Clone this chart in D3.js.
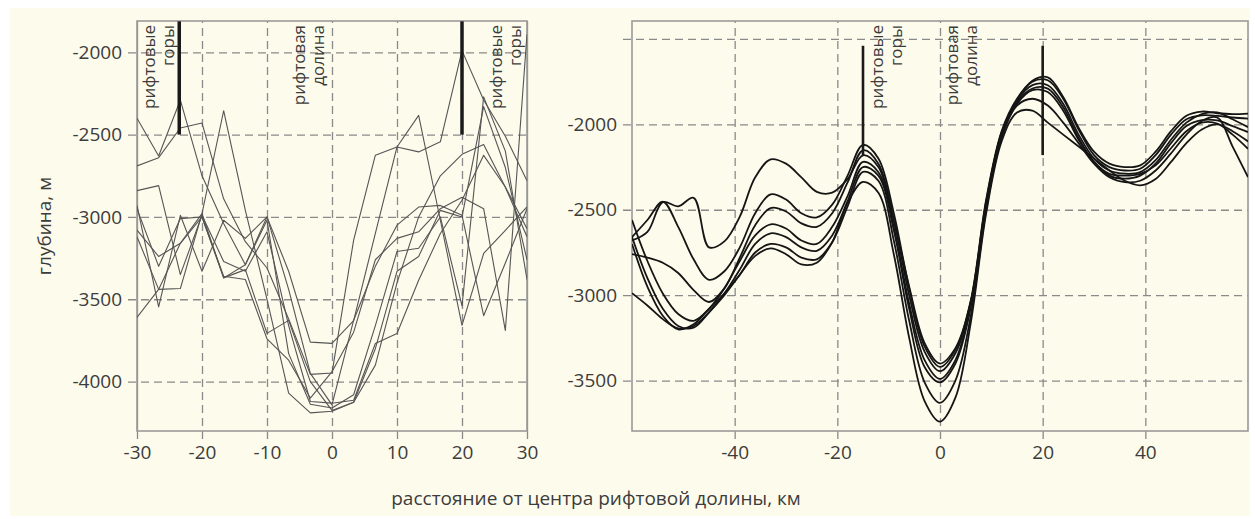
<!DOCTYPE html>
<html><head><meta charset="utf-8">
<script src="https://cdn.jsdelivr.net/npm/d3@7/dist/d3.min.js"></script>
<style>
html,body{margin:0;padding:0;background:#fff;}
svg{display:block;font-family:"Open Sans",sans-serif;}
</style></head>
<body>
<svg id="chart" width="1255" height="519"></svg>
<script>
// ---------- DATA ----------
// Left panel: profiles sampled every 10/3 km from -30 to 30 km
const leftX = [-30,-26.67,-23.33,-20,-16.67,-13.33,-10,-6.67,-3.33,0,3.33,6.67,10,13.33,16.67,20,23.33,26.67,30];
const left1 = [-2400,-2630,-2290,-2750,-3040,-3290,-3000,-3330,-3760,-3768,-3630,-3100,-2575,-2383,-3020,-3658,-3222,-3081,-2939];
const left2 = [-2690,-2640,-2460,-2430,-2890,-3150,-3310,-3620,-3956,-3948,-3141,-2625,-2575,-2605,-2544,-1990,-2290,-2510,-2780];
const left3 = [-2840,-2810,-3350,-2990,-3270,-3330,-3090,-3660,-4121,-4131,-4113,-3769,-3708,-3384,-3101,-2899,-2626,-2818,-3071];
const left4 = [-2930,-3546,-2990,-3330,-3020,-3130,-3000,-3440,-3950,-4141,-3627,-3300,-3050,-2940,-2930,-2990,-3600,-3280,-2950];
const left5 = [-3080,-3240,-3160,-3000,-3370,-3290,-3020,-3830,-4138,-4160,-4080,-3660,-3210,-3190,-3000,-3540,-2271,-2600,-3380];
const left6 = [-3610,-3440,-3160,-2980,-3370,-3320,-3707,-3628,-4000,-4175,-4125,-3800,-3330,-3240,-2960,-3000,-2330,-2700,-3260];
const left7 = [-3120,-3440,-3435,-2980,-2355,-2960,-3500,-4070,-4190,-4180,-4125,-3900,-3400,-3000,-2750,-2620,-2560,-2820,-3120];
const left8 = [-2950,-3300,-3010,-3000,-3360,-3380,-3740,-3870,-4100,-3940,-3700,-3260,-3130,-3090,-2950,-2880,-2950,-3690,-1890];

// Right panel: smoothed profiles sampled every 3 km from -60 to 60 km
const rightX = [-60,-57,-54,-51,-48,-45,-42,-39,-36,-33,-30,-27,-24,-21,-18,-15,-12,-9,-6,-3,0,3,6,9,12,15,18,21,24,27,30,33,36,39,42,45,48,51,54,57,60];
const right1 = [-2680,-2630,-2455,-2480,-2430,-2720,-2685,-2540,-2310,-2205,-2230,-2310,-2395,-2400,-2320,-2181,-2250,-2560,-2950,-3280,-3400,-3310,-3040,-2460,-2050,-1860,-1745,-1725,-1840,-2020,-2160,-2230,-2250,-2240,-2160,-2040,-1950,-1925,-1935,-1940,-1937];
const right2 = [-2660,-2560,-2453,-2600,-2790,-2910,-2860,-2720,-2520,-2410,-2440,-2520,-2545,-2470,-2300,-2120,-2200,-2520,-2960,-3300,-3420,-3320,-3030,-2440,-2040,-1850,-1750,-1742,-1850,-2030,-2180,-2250,-2270,-2260,-2180,-2060,-1970,-1947,-1950,-1960,-1967];
const right3 = [-2760,-2780,-2810,-2870,-2970,-3040,-2960,-2780,-2590,-2490,-2510,-2580,-2600,-2520,-2340,-2152,-2230,-2560,-3000,-3330,-3445,-3340,-3040,-2450,-2050,-1860,-1770,-1771,-1880,-2060,-2200,-2270,-2289,-2280,-2210,-2090,-1990,-1940,-1930,-1970,-2016];
const right4 = [-2560,-2800,-2990,-3110,-3150,-3080,-2960,-2800,-2650,-2585,-2610,-2680,-2700,-2600,-2420,-2220,-2280,-2600,-3050,-3380,-3490,-3380,-3060,-2470,-2060,-1870,-1790,-1791,-1900,-2080,-2220,-2300,-2318,-2300,-2230,-2110,-2010,-1975,-1977,-2010,-2045];
const right5 = [-2660,-2900,-3080,-3180,-3190,-3100,-2990,-2850,-2700,-2638,-2660,-2720,-2740,-2650,-2450,-2250,-2300,-2620,-3080,-3420,-3510,-3400,-3070,-2480,-2070,-1880,-1800,-1811,-1920,-2090,-2220,-2290,-2300,-2290,-2240,-2140,-2040,-1990,-1995,-2060,-2143];
const right6 = [-2700,-2950,-3120,-3200,-3170,-3080,-2990,-2880,-2750,-2700,-2720,-2780,-2790,-2690,-2480,-2278,-2330,-2680,-3150,-3510,-3630,-3500,-3120,-2500,-2080,-1890,-1850,-1890,-1990,-2110,-2230,-2310,-2338,-2330,-2270,-2170,-2060,-1980,-1960,-2130,-2309];
const right7 = [-2988,-3060,-3140,-3195,-3180,-3100,-3000,-2880,-2770,-2726,-2760,-2820,-2810,-2690,-2460,-2337,-2400,-2760,-3250,-3620,-3740,-3600,-3160,-2520,-2100,-1930,-1920,-1990,-2060,-2130,-2200,-2270,-2330,-2357,-2320,-2220,-2110,-2030,-2000,-2040,-2100];

// Tick values / labels
const leftXTicks = [-30,-20,-10,0,10,20,30];
const leftYTicks = [-2000,-2500,-3000,-3500,-4000];
const rightXTicks = [-40,-20,0,20,40];
const rightYTicks = [-1500,-2000,-2500,-3000,-3500];
const rightYLabels = [-2000,-2500,-3000,-3500];

// Markers (rift mountain crests) and annotations
const leftBars = [{x:-23.5, top:-1812, bottom:-2500},{x:20, top:-1812, bottom:-2500}];
const rightBars = [{x:-15, top:-1540, bottom:-2180},{x:20, top:-1540, bottom:-2180}];
const leftNotes = [{x:-28.2, lines:["рифтовые","горы"]},{x:-5.1, lines:["рифтовая","долина"]},{x:25.2, lines:["рифтовые","горы"]}];
const rightNotes = [{x:-12.3, lines:["рифтовые","горы"]},{x:2.3, lines:["рифтовая","долина"]}];

const yTitle = "глубина, м";
const xTitle = "расстояние от центра рифтовой долины, км";

// ---------- DRAW ----------
const svg = d3.select("#chart");
const textCol = "#3c3c3c";
const fmt = d => String(d);   // plain hyphen-minus as in the original
svg.append("rect").attr("x",10).attr("y",8).attr("width",1240).attr("height",508).attr("fill","#fdfbeb");

const plotTop = 21, plotBottom = 431;

function panel(cfg){
  const g = svg.append("g");
  const x = cfg.x, y = cfg.y;
  const [x0,x1] = x.range();
  const w = x1 - x0, h = plotBottom - plotTop;
  const cid = "clip"+cfg.id;
  svg.append("clipPath").attr("id",cid).append("rect").attr("x",x0).attr("y",plotTop).attr("width",w).attr("height",h);

  const ya = g.append("g").attr("transform",`translate(${x0},0)`)
    .call(d3.axisLeft(y).tickValues(cfg.yTicks).tickSize(-w).tickPadding(15)
      .tickFormat(d => cfg.yLabels.includes(d) ? fmt(d) : ""));
  ya.select(".domain").remove();
  ya.selectAll("line").attr("x1",-9).attr("stroke","#8a8a8a").attr("stroke-width",1.3).attr("stroke-dasharray","8,5");
  ya.selectAll("text").attr("fill",textCol).style("font-size","19px").style("font-family","'Open Sans',sans-serif");

  const xa = g.append("g").attr("transform",`translate(0,${plotBottom})`)
    .call(d3.axisBottom(x).tickValues(cfg.xTicks).tickSize(-h).tickPadding(15).tickFormat(fmt));
  xa.select(".domain").remove();
  xa.selectAll("line").attr("y1",8).attr("stroke","#8a8a8a").attr("stroke-width",1.3)
    .attr("stroke-dasharray", d => (d===x.domain()[0]||d===x.domain()[1]) ? null : "8,5");
  xa.selectAll("text").attr("fill",textCol).style("font-size","19px").style("font-family","'Open Sans',sans-serif");

  g.append("rect").attr("x",x0).attr("y",plotTop).attr("width",w).attr("height",h)
    .attr("fill","none").attr("stroke","#9a9a9a").attr("stroke-width",1.6);

  const line = d3.line().x((d,i)=>x(cfg.xs[i])).y(d=>y(d)).curve(cfg.curve);
  g.append("g").attr("clip-path",`url(#${cid})`).selectAll("path").data(cfg.series).join("path")
    .attr("d", line).attr("fill","none").attr("stroke",cfg.stroke).attr("stroke-width",cfg.sw)
    .attr("stroke-linejoin","round");

  g.selectAll(".bar").data(cfg.bars).join("line").attr("class","bar")
    .attr("x1",d=>x(d.x)).attr("x2",d=>x(d.x)).attr("y1",d=>y(d.top)).attr("y2",d=>y(d.bottom))
    .attr("stroke","#1a1a1a").attr("stroke-width",cfg.barW);

  cfg.notes.forEach(n=>{
    n.lines.forEach((t,i)=>{
      g.append("text").attr("transform",`translate(${x(n.x)+i*19},${plotTop+4}) rotate(-90)`)
        .attr("text-anchor","end").attr("dominant-baseline","central")
        .attr("fill",textCol).style("font-size","17px").text(t);
    });
  });
}

panel({id:"L", x:d3.scaleLinear([-30,30],[137,527]), y:d3.scaleLinear([-4300,-1810],[plotBottom,plotTop]),
  xTicks:leftXTicks, yTicks:leftYTicks, yLabels:leftYTicks, xs:leftX,
  series:[left1,left2,left3,left4,left5,left6,left7,left8], curve:d3.curveLinear,
  stroke:"#555", sw:1.1, bars:leftBars, barW:3.5, notes:leftNotes});

panel({id:"R", x:d3.scaleLinear([-60,60],[632,1248]), y:d3.scaleLinear([-3795,-1395],[plotBottom,plotTop]),
  xTicks:rightXTicks, yTicks:rightYTicks, yLabels:rightYLabels, xs:rightX,
  series:[right1,right2,right3,right4,right5,right6,right7], curve:d3.curveCatmullRom.alpha(0.5),
  stroke:"#151515", sw:1.8, bars:rightBars, barW:2.6, notes:rightNotes});

svg.append("text").attr("transform","translate(51,226) rotate(-90)").attr("text-anchor","middle")
  .attr("fill",textCol).style("font-size","19px").text(yTitle);
svg.append("text").attr("x",596).attr("y",505).attr("text-anchor","middle")
  .attr("fill",textCol).style("font-size","19px").text(xTitle);
</script>
</body></html>
